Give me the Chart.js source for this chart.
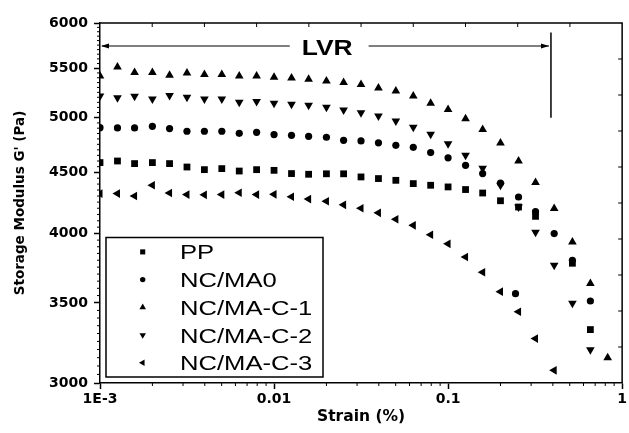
<!DOCTYPE html>
<html>
<head>
<meta charset="utf-8">
<script src="https://cdn.jsdelivr.net/npm/chart.js@4.4.1/dist/chart.umd.min.js"></script>
<style>
  body { margin: 0; background: #fff; }
  canvas { display: block; }
</style>
</head>
<body>
<canvas id="graphique" width="629" height="433"></canvas>
<script>
// Strain (%) of each measurement point
const strain = [0.001, 0.00126, 0.00158, 0.002, 0.00251, 0.00316, 0.00398, 0.00501, 0.00631, 0.00794,
  0.01, 0.0126, 0.0158, 0.02, 0.0251, 0.0316, 0.0398, 0.0501, 0.0631, 0.0794,
  0.1, 0.126, 0.158, 0.2, 0.254, 0.318, 0.407, 0.518, 0.657, 0.826];

const seriesNames = ["PP", "NC/MA0", "NC/MA-C-1", "NC/MA-C-2", "NC/MA-C-3"];

// Storage modulus G' (Pa), null = no point
const gPP = [4586, 4600, 4577, 4586, 4577, 4547, 4524, 4533, 4512, 4524, 4518, 4490, 4484, 4488, 4488,
  4461, 4447, 4432, 4404, 4390, 4376, 4354, 4325, 4261, 4210, 4135, null, 3778, 3325, null];
const gMA0 = [4905, 4902, 4902, 4918, 4896, 4871, 4871, 4871, 4852, 4861, 4840, 4833, 4824, 4815, 4787,
  4781, 4764, 4741, 4723, 4675, 4628, 4562, 4490, 4409, 4292, 4172, 4000, 3800, 3513, null];
const gC1 = [5418, 5513, 5454, 5454, 5426, 5450, 5433, 5433, 5418, 5418, 5405, 5397, 5384, 5366, 5350,
  5329, 5295, 5264, 5214, 5141, 5079, 4991, 4887, 4762, 4600, 4413, 4197, 3936, 3633, 3150];
const gC2 = [5214, 5196, 5211, 5184, 5218, 5201, 5184, 5184, 5151, 5158, 5141, 5131, 5121, 5102, 5075,
  5048, 5017, 4968, 4908, 4843, 4755, 4651, 4536, 4390, 4210, 4010, 3763, 3498, 3199, null];
const gC3 = [4320, 4320, 4300, 4390, 4325, 4312, 4310, 4312, 4327, 4312, 4314, 4294, 4275, 4257, 4228,
  4200, 4163, 4112, 4064, 3991, 3922, 3824, 3713, 3577, 3441, 3268, 3074, null, null, null];
// lone NC/MA0 point sitting below the curve
const ma0ExtraStrain = [0.244];
const ma0ExtraG = [3563];

// Axes
const xTickValues = [0.001, 0.01, 0.1, 1];
const xTickLabels = ["1E-3", "0.01", "0.1", "1"];
const yTickValues = [3000, 3500, 4000, 4500, 5000, 5500, 6000];
const yTickLabels = ["3000", "3500", "4000", "4500", "5000", "5500", "6000"];

// LVR annotation (data units)
const lvrLimit = 0.39;
const lvrArrowG = 5740;
const lvrLineTop = 5890;
const lvrLineBottom = 5000;
const lvrLabelStrain = 0.0202;

function points(xs, ys) {
  const pts = [];
  for (let i = 0; i < xs.length; i++) {
    if (ys[i] !== null) pts.push({ x: xs[i], y: ys[i] });
  }
  return pts;
}

const styles = [
  { pointStyle: "rect", rotation: 0, radius: 4.8 },
  { pointStyle: "circle", rotation: 0, radius: 3.6 },
  { pointStyle: "triangle", rotation: 0, radius: 5 },
  { pointStyle: "triangle", rotation: 180, radius: 5 },
  { pointStyle: "triangle", rotation: 270, radius: 5 },
];

const seriesData = [
  points(strain, gPP),
  points(strain, gMA0).concat(points(ma0ExtraStrain, ma0ExtraG)),
  points(strain, gC1),
  points(strain, gC2),
  points(strain, gC3),
];

const datasets = seriesNames.map((name, i) => ({
  label: name,
  data: seriesData[i],
  showLine: false,
  pointStyle: styles[i].pointStyle,
  rotation: styles[i].rotation,
  pointRadius: styles[i].radius,
  backgroundColor: "#000",
  borderColor: "#000",
  borderWidth: 0,
  clip: { left: 0, top: false, right: false, bottom: false },
}));

function drawMarker(ctx, st, x, y, r) {
  ctx.fillStyle = "#000";
  if (Chart.helpers && Chart.helpers.drawPoint) {
    Chart.helpers.drawPoint(ctx, { pointStyle: st.pointStyle, rotation: st.rotation, radius: r, borderWidth: 0 }, x, y);
  }
}

function stretchedText(ctx, text, x, y, sx, align) {
  ctx.save();
  ctx.translate(x, y);
  ctx.scale(sx, 1);
  ctx.textAlign = align;
  ctx.fillText(text, 0, 0);
  ctx.restore();
}

// frame, minor / mirror ticks, LVR mark and legend box
const decorPlugin = {
  id: "decor",
  afterDraw(chart) {
    const { ctx, chartArea: a } = chart;
    const x = chart.scales.x, y = chart.scales.y;
    ctx.save();
    ctx.strokeStyle = "#000";
    ctx.fillStyle = "#000";

    // top and right border
    ctx.lineWidth = 1.5;
    ctx.beginPath();
    ctx.moveTo(a.left, a.top);
    ctx.lineTo(a.right, a.top);
    ctx.lineTo(a.right, a.bottom);
    ctx.stroke();

    ctx.lineWidth = 1;
    ctx.beginPath();
    // minor ticks on y (every 50 Pa)
    for (let v = 3050; v < 6000; v += 50) {
      if (v % 500 === 0) continue;
      const py = y.getPixelForValue(v);
      ctx.moveTo(a.left - 3, py);
      ctx.lineTo(a.left, py);
    }
    // minor ticks on x (2..9 per decade)
    for (let d = 0.001; d < 1; d *= 10) {
      for (let m = 2; m <= 9; m++) {
        const px = x.getPixelForValue(d * m);
        ctx.moveTo(px, a.bottom);
        ctx.lineTo(px, a.bottom + 3);
      }
    }
    // mirror ticks on top and right
    for (let k = 1; k < 10; k++) {
      const px = x.getPixelForValue(Math.pow(10, -3 + 0.3 * k));
      ctx.moveTo(px, a.top);
      ctx.lineTo(px, a.top + 4);
      const py = y.getPixelForValue(3000 * Math.pow(2, k / 10));
      ctx.moveTo(a.right, py);
      ctx.lineTo(a.right - 4, py);
    }
    ctx.stroke();

    // LVR annotation
    const ay = y.getPixelForValue(lvrArrowG);
    const lx = x.getPixelForValue(lvrLimit);
    const cx = x.getPixelForValue(lvrLabelStrain);
    ctx.font = "bold 22px 'Liberation Sans', Arial, sans-serif";
    ctx.textBaseline = "alphabetic";
    const sx = 1.2;
    const tw = ctx.measureText("LVR").width * sx;
    stretchedText(ctx, "LVR", cx, ay + 8.5, sx, "center");

    ctx.lineWidth = 1;
    ctx.beginPath();
    ctx.moveTo(a.left + 2, ay);
    ctx.lineTo(cx - tw / 2 - 12, ay);
    ctx.moveTo(cx + tw / 2 + 16, ay);
    ctx.lineTo(lx - 2, ay);
    ctx.stroke();
    ctx.beginPath();
    ctx.moveTo(a.left + 1, ay);
    ctx.lineTo(a.left + 9, ay - 2.5);
    ctx.lineTo(a.left + 9, ay + 2.5);
    ctx.closePath();
    ctx.moveTo(lx - 2, ay);
    ctx.lineTo(lx - 10, ay - 2.5);
    ctx.lineTo(lx - 10, ay + 2.5);
    ctx.closePath();
    ctx.fill();

    ctx.lineWidth = 1.5;
    ctx.beginPath();
    ctx.moveTo(lx, y.getPixelForValue(lvrLineTop));
    ctx.lineTo(lx, y.getPixelForValue(lvrLineBottom));
    ctx.stroke();

    // legend box
    const bw = 217, bh = 139.5;
    const bx = a.left + 6, by = a.bottom - 6 - bh;
    ctx.lineWidth = 1.5;
    ctx.strokeRect(bx, by, bw, bh);
    ctx.font = "21px 'Liberation Sans', Arial, sans-serif";
    for (let i = 0; i < seriesNames.length; i++) {
      const ry = by + 14.4 + 27.7 * i;
      drawMarker(ctx, styles[i], bx + 36.7, ry, styles[i].radius * 0.75);
      ctx.fillStyle = "#000";
      stretchedText(ctx, seriesNames[i], bx + 74, ry + 7.5, 1.22, "left");
    }
    ctx.restore();
  },
};

const axisFont = { family: "'DejaVu Sans', sans-serif", weight: "bold", size: 14 };

new Chart(document.querySelector("#graphique"), {
  type: "scatter",
  data: { datasets: datasets },
  options: {
    responsive: false,
    devicePixelRatio: 1,
    animation: false,
    layout: { padding: { top: 23, right: 4, left: 0, bottom: 0 } },
    plugins: { legend: { display: false }, tooltip: { enabled: false } },
    scales: {
      x: {
        type: "logarithmic",
        min: 0.001,
        max: 1,
        afterBuildTicks: (s) => { s.ticks = xTickValues.map((v) => ({ value: v })); },
        afterFit: (s) => { s.height = 50; },
        ticks: {
          callback: (v) => xTickLabels[xTickValues.indexOf(v)],
          font: axisFont, color: "#000", padding: 2, maxRotation: 0, autoSkip: false,
        },
        grid: { drawOnChartArea: false, color: "#000", tickLength: 6, tickWidth: 1.5 },
        border: { color: "#000", width: 1.5 },
        title: {
          display: true, text: "Strain (%)", color: "#000",
          font: { family: "'DejaVu Sans', sans-serif", weight: "bold", size: 15.5 },
          padding: { top: 0, bottom: 7 },
        },
      },
      y: {
        type: "logarithmic",
        min: 3000,
        max: 6000,
        afterBuildTicks: (s) => { s.ticks = yTickValues.map((v) => ({ value: v })); },
        afterFit: (s) => { s.width = 100; },
        ticks: {
          callback: (v) => yTickLabels[yTickValues.indexOf(v)],
          font: axisFont, color: "#000", padding: 6, autoSkip: false,
        },
        grid: { drawOnChartArea: false, color: "#000", tickLength: 6, tickWidth: 1.5 },
        border: { color: "#000", width: 1.5 },
        title: {
          display: true, text: "Storage Modulus G' (Pa)", color: "#000",
          font: { family: "'DejaVu Sans', sans-serif", weight: "bold", size: 13.5 },
          padding: { top: 12, bottom: 0 },
        },
      },
    },
  },
  plugins: [decorPlugin],
});
</script>
</body>
</html>
